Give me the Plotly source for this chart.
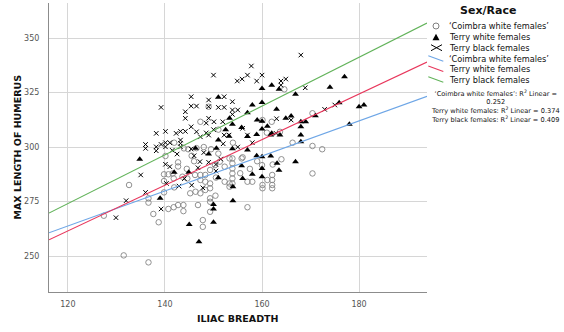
import plotly.graph_objects as go

# ---------------- data ----------------
coimbra_x = [127.4, 131.5, 132.6, 136.6, 136.6, 136.6, 137.6, 138.7, 139.8, 139.8,
             139.8, 140.7, 141.8, 142.7, 143.8, 143.8, 141.9, 142.7, 142.7, 141.9,
             140.1, 144.8, 140.7, 141.6, 141.8, 143.6, 144.6, 145.2, 146.3, 147.3,
             148.3, 149.3, 150.4, 149.3, 149.3, 146.8, 149.3, 147.8, 147.8, 147.3,
             148.3, 149.3, 152.3, 153.3, 153.3, 153.9, 153.9, 153.9, 153.9, 153.9,
             153.9, 155.8, 157.0, 158.0, 161.1, 162.1, 162.1, 162.1, 162.1, 160.1,
             160.1, 160.0, 152.3, 151.3, 150.3, 149.3, 148.3, 147.3, 146.2, 153.3,
             147.3, 162.0, 161.0, 163.7, 156.0, 146.5, 148.0, 149.5, 149.0, 164.6,
             160.1, 166.3, 170.4, 170.4, 172.4, 162.2, 164.0, 170.4, 157.0, 143.9,
             145.5, 151.0, 154.0, 144.5, 146.0, 157.5, 155.5, 150.5, 151.0, 159.0]
coimbra_y = [268.5, 250.3, 282.6, 247.1, 276.5, 274.5, 269.3, 265.5, 287.5, 284.4,
             279.2, 271.6, 272.4, 273.4, 273.4, 270.6, 281.5, 293.0, 291.1, 302.0,
             295.9, 299.0, 287.5, 287.9, 285.6, 286.4, 285.6, 278.8, 279.5, 278.8,
             280.3, 281.1, 277.7, 276.5, 274.9, 273.4, 270.3, 266.5, 263.4, 284.9,
             284.1, 283.3, 284.1, 283.3, 281.8, 294.8, 292.5, 290.2, 287.9, 285.6,
             283.3, 294.8, 284.1, 284.1, 284.9, 287.2, 284.9, 282.6, 281.1, 282.6,
             281.1, 291.7, 291.0, 293.3, 291.7, 289.5, 287.2, 287.2, 287.2, 294.8,
             311.6, 311.6, 306.6, 307.0, 295.3, 299.5, 300.0, 299.0, 318.5, 326.5,
             312.4, 302.0, 315.5, 300.5, 299.0, 292.0, 294.4, 287.9, 272.4, 299.4,
             296.0, 297.0, 302.0, 290.0, 293.5, 290.0, 288.0, 286.0, 308.0, 293.5]

terry_white_x = [134.8, 139.0, 141.9, 144.9, 145.0, 147.0, 150.0, 150.0, 150.0, 154.0,
                 151.0, 154.0, 156.0, 158.0, 160.0, 160.0, 163.1, 163.5, 166.9, 155.8,
                 158.9, 150.6, 153.9, 157.0, 160.0, 161.8, 151.0, 161.8, 163.7, 157.0,
                 158.9, 153.2, 149.0, 146.3, 160.0, 153.3, 153.9, 155.8, 157.0, 159.0,
                 160.0, 158.0, 160.0, 160.0, 162.0, 163.5, 151.0, 163.0, 161.1, 162.0,
                 164.9, 166.0, 168.0, 169.0, 168.0, 171.0, 166.9, 174.0, 177.0, 175.9,
                 180.0, 181.0, 178.0, 168.0, 168.0, 152.5]
terry_white_y = [294.4, 276.5, 288.4, 288.4, 264.5, 256.6, 265.5, 273.7, 271.6, 275.4,
                 285.9, 281.8, 285.6, 287.5, 286.4, 290.2, 292.6, 289.4, 293.3, 291.4,
                 296.0, 299.4, 299.2, 298.6, 295.5, 295.9, 303.2, 305.5, 305.5, 304.8,
                 305.8, 305.0, 296.8, 299.4, 308.3, 313.2, 310.5, 309.0, 315.7, 312.4,
                 311.9, 319.3, 320.5, 326.9, 328.4, 326.5, 322.8, 317.3, 309.6, 306.3,
                 313.2, 314.2, 311.6, 311.6, 309.3, 314.4, 324.2, 327.4, 332.3, 320.3,
                 318.5, 319.3, 310.5, 305.5, 302.4, 308.0]

terry_black_x = [129.9, 132.0, 135.0, 136.0, 139.2, 140.3, 140.1, 141.0, 142.9, 147.8,
                 136.0, 136.0, 138.2, 138.2, 139.2, 140.1, 140.1, 141.0, 143.2, 143.2,
                 143.2, 138.2, 140.1, 142.3, 143.2, 144.2, 139.2, 144.2, 144.2, 145.4,
                 145.4, 146.5, 149.0, 149.0, 152.2, 151.0, 152.2, 153.9, 153.9, 155.0,
                 153.9, 149.0, 150.1, 145.4, 146.5, 147.3, 151.9, 153.2, 157.0, 145.4,
                 148.5, 150.0, 150.0, 157.8, 157.0, 155.9, 154.9, 160.0, 158.9, 163.9,
                 163.9, 164.9, 168.0, 168.9, 172.9, 175.0, 166.0, 162.9, 158.0, 146.0,
                 148.0, 152.0, 155.0, 142.5, 149.0, 151.5, 144.0, 145.5, 163.0, 150.5,
                 146.8, 148.5, 141.5, 147.2, 150.5, 149.0, 152.2, 156.0]
terry_black_y = [267.6, 275.4, 287.2, 279.2, 271.6, 283.3, 292.1, 291.0, 282.1, 281.3,
                 301.2, 299.4, 300.1, 298.3, 301.2, 302.0, 300.1, 302.0, 303.2, 301.7,
                 300.1, 306.3, 307.2, 306.3, 307.2, 307.2, 318.2, 316.2, 313.2, 323.1,
                 318.8, 318.8, 321.6, 318.5, 323.1, 318.2, 318.2, 320.8, 317.0, 317.0,
                 315.0, 313.2, 311.6, 309.3, 307.0, 304.7, 311.6, 305.5, 305.5, 299.1,
                 306.5, 308.0, 333.0, 337.2, 333.0, 331.2, 330.3, 333.0, 330.3, 330.3,
                 328.4, 331.2, 342.2, 327.2, 317.3, 319.3, 312.4, 306.3, 302.0, 296.0,
                 297.5, 301.5, 300.0, 296.8, 293.0, 294.5, 285.5, 282.5, 313.0, 289.0,
                 290.5, 311.0, 298.5, 293.3, 292.0, 305.5, 305.5, 308.6]

# fitted linear regressions: (intercept, slope)
fit_coimbra = (167.3, 0.804)
fit_terry_white = (135.9, 1.047)
fit_terry_black = (139.8, 1.119)
r2_values = ["0.252", "0.374", "0.409"]

x_range = [116.1, 194.0]
y_range = [233.5, 366.1]
x_ticks = [120, 140, 160, 180]
y_ticks = [250, 275, 300, 325, 350]

C_BLUE = "#6ea6e6"
C_RED = "#e8375c"
C_GREEN = "#62b35a"
FONT = "DejaVu Sans"

fig = go.Figure()
fig.add_trace(go.Scatter(x=coimbra_x, y=coimbra_y, mode="markers",
                         marker=dict(symbol="circle-open", size=5.5, color="#858585",
                                     line=dict(width=0.9, color="#858585")),
                         showlegend=False))
fig.add_trace(go.Scatter(x=terry_white_x, y=terry_white_y, mode="markers",
                         marker=dict(symbol="triangle-up", size=6, color="black",
                                     line=dict(width=0)),
                         showlegend=False))
fig.add_trace(go.Scatter(x=terry_black_x, y=terry_black_y, mode="markers",
                         marker=dict(symbol="x-thin-open", size=4.5, color="black",
                                     line=dict(width=1, color="black")),
                         showlegend=False))

for (a, b), col in [(fit_coimbra, C_BLUE), (fit_terry_white, C_RED), (fit_terry_black, C_GREEN)]:
    fig.add_trace(go.Scatter(x=x_range, y=[a + b * x_range[0], a + b * x_range[1]],
                             mode="lines", line=dict(color=col, width=1.1),
                             showlegend=False))

# ---------------- layout ----------------
ML, MR, MT, MB = 49, 137, 3, 40
W, H = 564, 332
PW, PH = W - ML - MR, H - MT - MB


def px(xp):
    return (xp - ML) / PW


def py(yp):
    return (H - MB - yp) / PH


fig.update_layout(
    width=W, height=H,
    margin=dict(l=ML, r=MR, t=MT, b=MB),
    plot_bgcolor="white", paper_bgcolor="white",
    showlegend=False,
    font=dict(family=FONT, color="#222"),
    xaxis=dict(range=x_range, tickvals=x_ticks, showgrid=True, gridcolor="#d6d6d6",
               gridwidth=1, showline=True, linecolor="#8c8c8c", linewidth=1,
               zeroline=False, ticks="", tickfont=dict(size=8, color="#555"),
               ticklabelstandoff=4),
    yaxis=dict(range=y_range, tickvals=y_ticks, showgrid=True, gridcolor="#d6d6d6",
               gridwidth=1, showline=True, linecolor="#8c8c8c", linewidth=1,
               zeroline=False, ticks="", tickfont=dict(size=8, color="#555"),
               ticklabelstandoff=7),
)

annotations = [
    dict(text="<b>MAX LENGTH OF HUMERUS</b>", x=px(17), y=0.5, xref="paper", yref="paper",
         textangle=-90, showarrow=False, xanchor="center", yanchor="middle",
         font=dict(size=9.5, color="#111")),
    dict(text="<b>ILIAC BREADTH</b>", x=0.5, y=py(318), xref="paper", yref="paper",
         showarrow=False, xanchor="center", yanchor="middle",
         font=dict(size=9.5, color="#111")),
    dict(text="<b>Sex/Race</b>", x=px(488), y=py(11), xref="paper", yref="paper",
         showarrow=False, xanchor="center", yanchor="middle",
         font=dict(size=11, color="#111")),
]
legend_labels = ["\u2018Coimbra white females\u2019", "Terry white females", "Terry black females",
                 "\u2018Coimbra white females\u2019", "Terry white females", "Terry black females"]
legend_rows = [26, 37.3, 47.7, 58.7, 69, 79.7]
for lab, yy in zip(legend_labels, legend_rows):
    annotations.append(dict(text=lab, x=px(447), y=py(yy), xref="paper", yref="paper",
                            showarrow=False, xanchor="left", yanchor="middle",
                            font=dict(size=8.2, color="#111")))
r2_text = ("\u2018Coimbra white females\u2019: R<sup>2</sup> Linear =<br>" + r2_values[0] +
           "<br>Terry white females: R<sup>2</sup> Linear = " + r2_values[1] +
           "<br>Terry black females: R<sup>2</sup> Linear = " + r2_values[2])
annotations.append(dict(text=r2_text, x=px(495), y=py(87), xref="paper", yref="paper",
                        showarrow=False, xanchor="center", yanchor="top", align="center",
                        font=dict(size=6.6, color="#111")))
fig.update_layout(annotations=annotations)

shapes = []
# circle symbol
cx, cy, r = 436, 26, 3
shapes.append(dict(type="circle", xref="paper", yref="paper", x0=px(cx - r), x1=px(cx + r),
                   y0=py(cy + r), y1=py(cy - r), line=dict(color="#808080", width=1)))
# triangle symbol
tx, ty = 436, 37.3
path = "M {} {} L {} {} L {} {} Z".format(px(tx - 3.5), py(ty + 3), px(tx + 3.5), py(ty + 3),
                                          px(tx), py(ty - 3.5))
shapes.append(dict(type="path", xref="paper", yref="paper", path=path,
                   fillcolor="black", line=dict(width=0)))
# x symbol (wide)
xx, xy = 436.5, 47.7
shapes.append(dict(type="line", xref="paper", yref="paper", x0=px(xx - 5.5), x1=px(xx + 5.5),
                   y0=py(xy - 3), y1=py(xy + 3), line=dict(color="black", width=1)))
shapes.append(dict(type="line", xref="paper", yref="paper", x0=px(xx - 5.5), x1=px(xx + 5.5),
                   y0=py(xy + 3), y1=py(xy - 3), line=dict(color="black", width=1)))
# line symbols (slanted)
for yy, col in [(58.7, C_BLUE), (69, C_RED), (79.7, C_GREEN)]:
    shapes.append(dict(type="line", xref="paper", yref="paper", x0=px(428.3), x1=px(443.3),
                       y0=py(yy - 3), y1=py(yy + 2.5), line=dict(color=col, width=1.1)))
fig.update_layout(shapes=shapes)

fig.write_html("out.html")
